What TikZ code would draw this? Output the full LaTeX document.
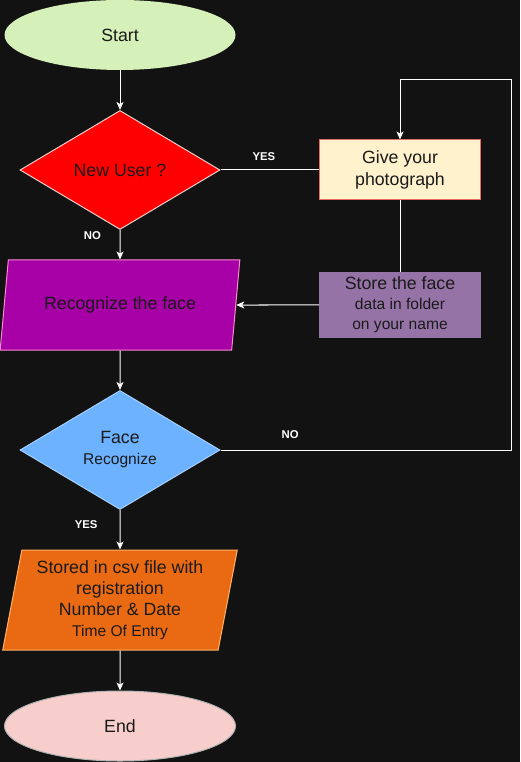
\documentclass[tikz,border=0pt]{standalone}
\usepackage{fontspec}
\setmainfont{Liberation Sans}
\usetikzlibrary{shapes.geometric,arrows.meta}

\definecolor{canvas}{HTML}{121212}
\definecolor{ink}{HTML}{1A1A1A}
\definecolor{startgreen}{HTML}{D5F0B8}
\definecolor{endpink}{HTML}{F8CECC}
\definecolor{askred}{HTML}{FF0000}
\definecolor{photoyellow}{HTML}{FFF2CC}
\definecolor{photoedge}{HTML}{EA6B66}
\definecolor{storepurple}{HTML}{9673A6}
\definecolor{recogmagenta}{HTML}{A600A6}
\definecolor{faceblue}{HTML}{6CB2FF}
\definecolor{csvorange}{HTML}{E96A13}

\begin{document}
\begin{tikzpicture}[node distance=101.25pt,line width=0.75pt,>={Stealth[length=6pt,width=5.25pt,inset=1.5pt]},
    every node/.style={text=ink,font=\fontsize{13.3}{15}\selectfont},
    term/.style={ellipse,minimum width=173.25pt,minimum height=52.5pt},
    decide/.style={diamond,aspect=1.68,minimum width=150pt,minimum height=89.25pt,inner sep=0pt,draw},
    box/.style={rectangle,minimum width=120.75pt,minimum height=45pt,align=center,draw},
    io/.style={trapezium,trapezium stretches=true,align=center,draw},
    lbl/.style={text=white,inner sep=0pt,font=\bfseries\fontsize{8.5}{10}\selectfont}]
  \fill[canvas] (0,0) rectangle (390pt,-571.5pt);
  \useasboundingbox (0,0) rectangle (390pt,-571.5pt);

  \node (start) [term,fill=startgreen] at (90pt,-26.25pt) {Start};
  \node (newuser) [decide,below of=start,fill=askred,draw=endpink] {New User ?};
  \node (give) [box,node distance=210pt,right of=newuser,fill=photoyellow,draw=photoedge,
    font=\fontsize{13.3}{16.5}\selectfont] {Give your\\photograph};
  \node (store) [box,below of=give,minimum height=45.75pt,fill=storepurple,draw=storepurple]
    {Store the face\\{\fontsize{11.7}{15}\selectfont data in folder}\\{\fontsize{11.7}{15}\selectfont on your name}};
  \node (recog) [io,below of=newuser,trapezium left angle=77,trapezium right angle=103,
    minimum width=180pt,minimum height=67.5pt,fill=recogmagenta,draw=pink!70!magenta] {Recognize the face};
  \node (facerec) [decide,node distance=108.75pt,below of=recog,fill=faceblue,draw=faceblue!60!white,
    align=center,font=\fontsize{13.3}{15.75}\selectfont] {Face\\{\fontsize{11.7}{15.75}\selectfont Recognize}};
  \node (stored) [io,node distance=112.5pt,below of=facerec,trapezium left angle=79,trapezium right angle=101,
    minimum width=176.25pt,minimum height=75pt,fill=csvorange,draw=orange!60!white,
    font=\fontsize{13.3}{15.75}\selectfont]
    {Stored in csv file with\\registration\\Number \& Date\\{\fontsize{11.7}{15.75}\selectfont Time Of Entry}};
  \node (end) [term,node distance=94.5pt,below of=stored,fill=endpink,draw=gray!60] {End};
  \coordinate (loopturn) at (383.25pt,-60pt);

  \draw[white,->] (start) -- (newuser);
  \draw[white] (newuser) -- node[lbl,pos=0.44,above=7pt] {YES} (give);
  \draw[white,->] (newuser) -- node[lbl,pos=0.2,left=14pt] {NO} (recog);
  \draw[white] (give) -- (store);
  \draw[white,->] (store) -- (recog);
  \draw[white,->] (recog) -- (facerec);
  \draw[white,->] (facerec) -- node[lbl,pos=0.375,left=16.5pt] {YES} (stored);
  \draw[white,->] (stored) -- (end);
  \draw[white,->] (facerec) -| node[lbl,pos=0.12,above=8.5pt] {NO} (loopturn) -| (give);
\end{tikzpicture}
\end{document}
